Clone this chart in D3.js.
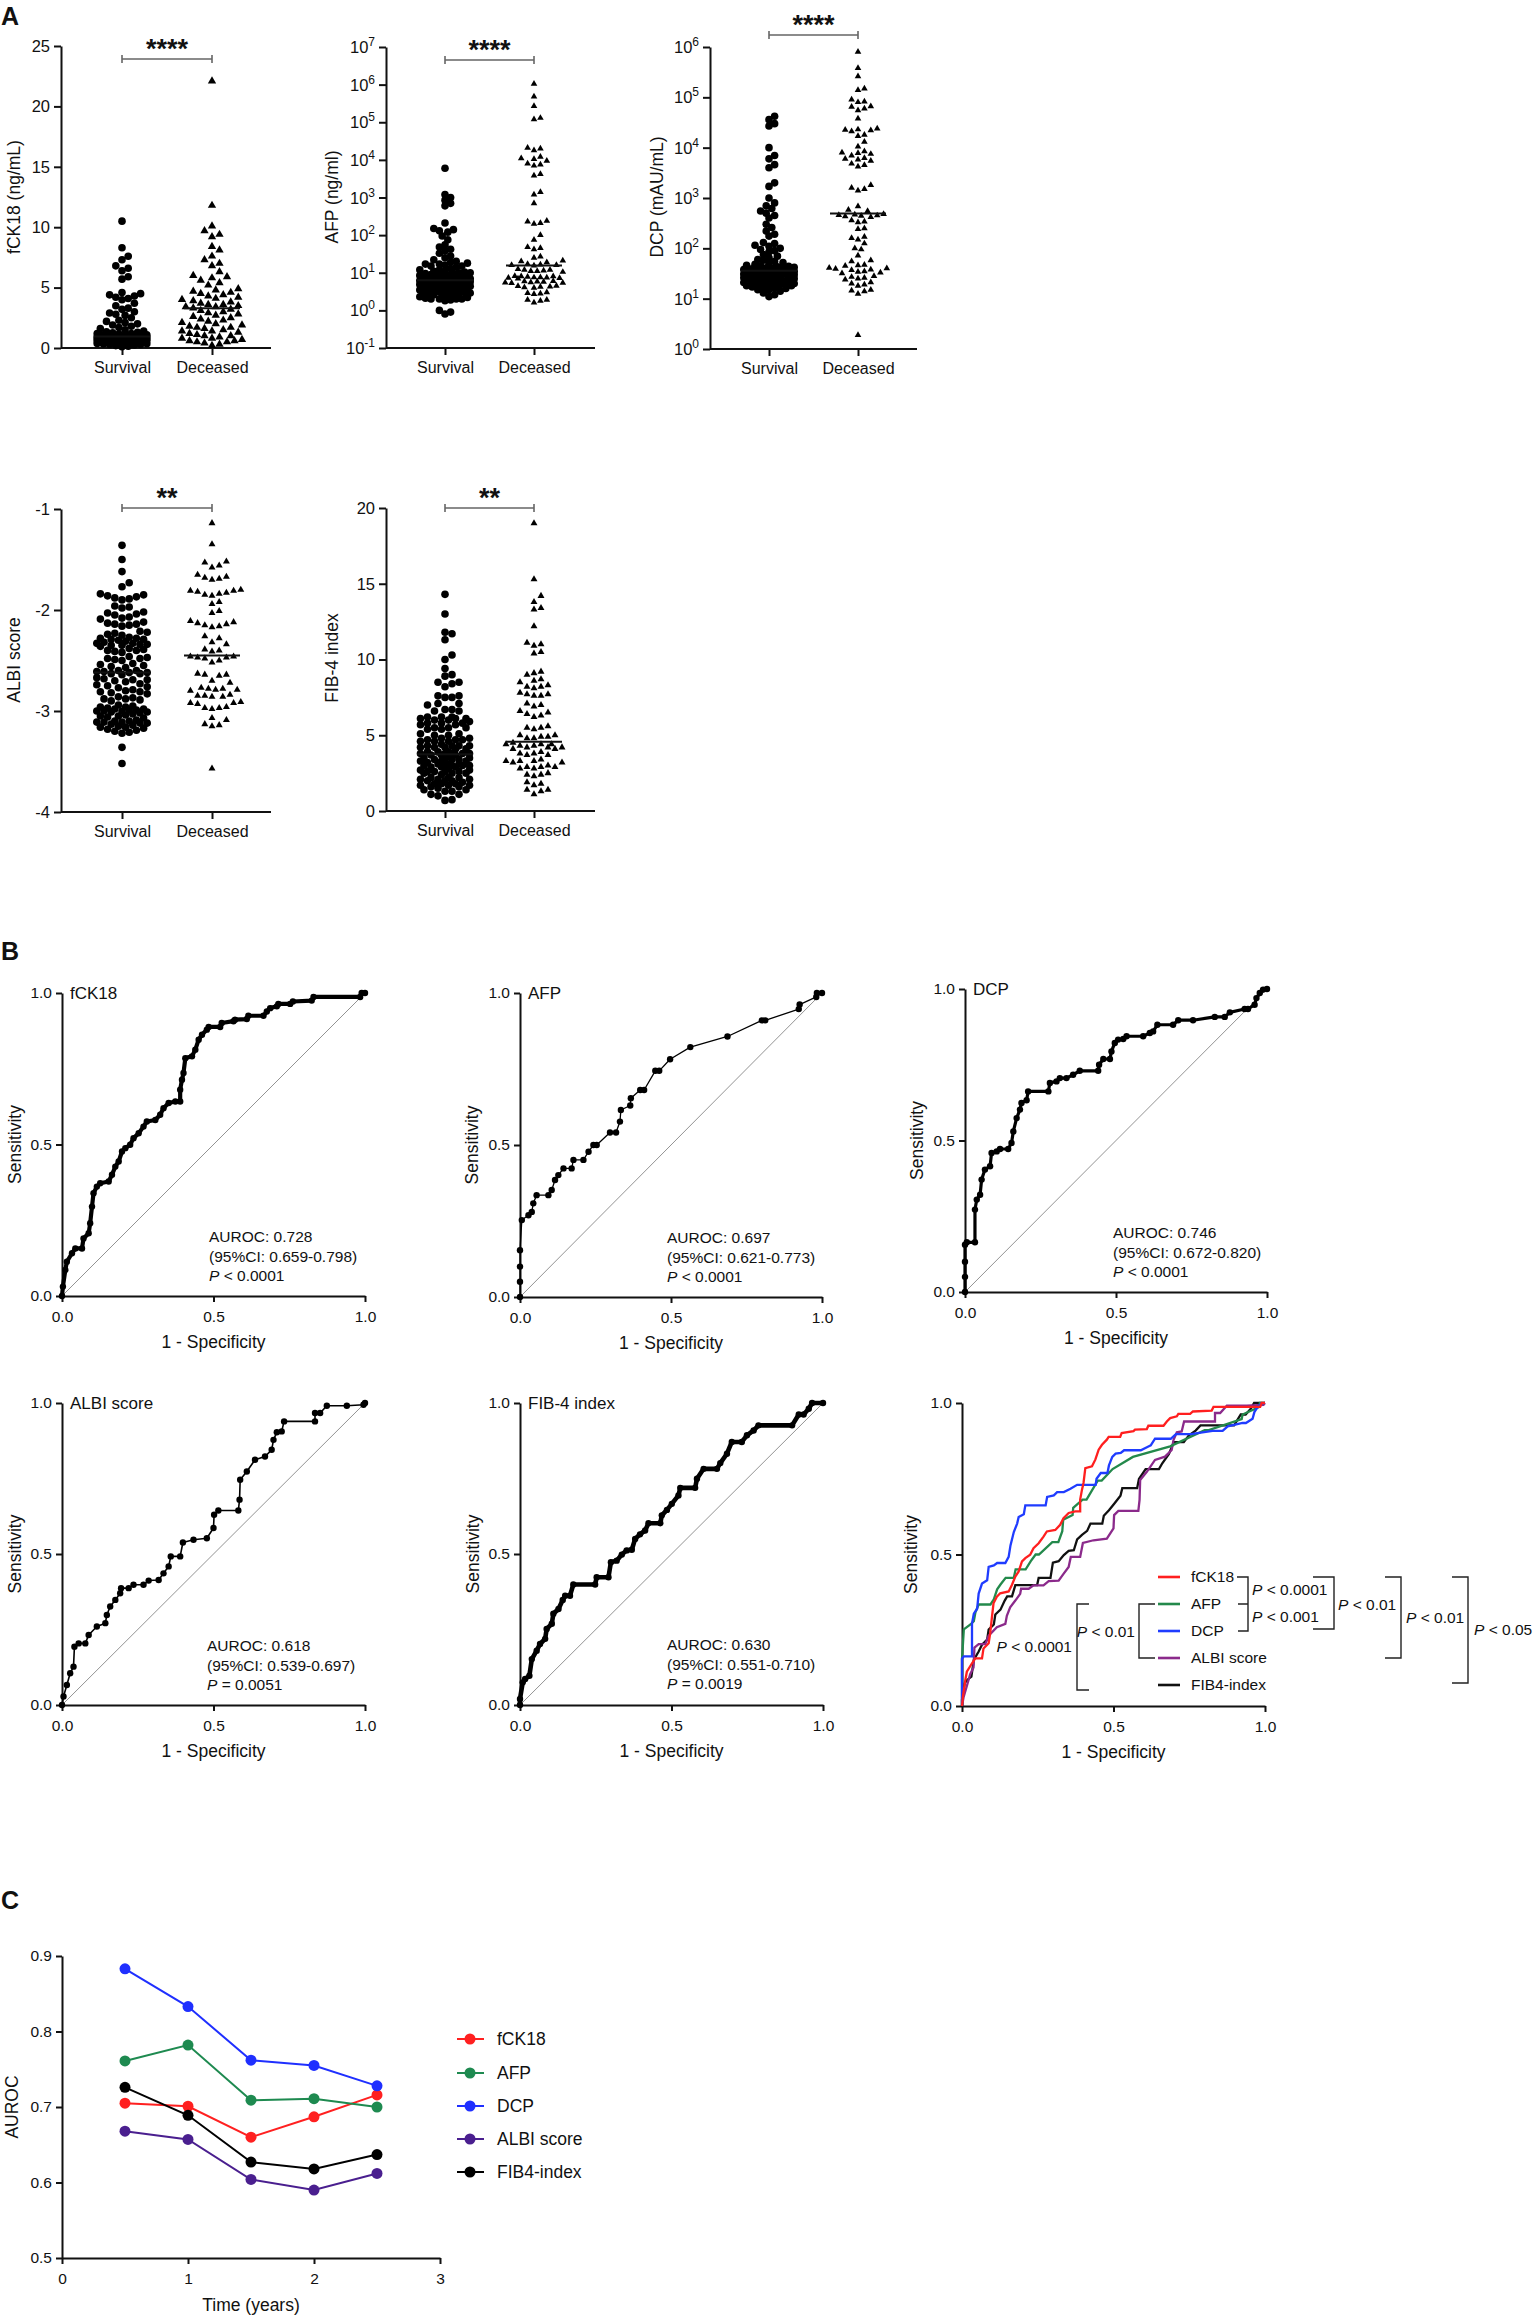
<!DOCTYPE html>
<html>
<head>
<meta charset="utf-8">
<script src="https://cdn.jsdelivr.net/npm/d3@7"></script>
<style>
  body { margin: 0; background: #fff; }
  text { font-family: "Liberation Sans", Arial, Helvetica, sans-serif; fill: #111; }
</style>
</head>
<body>
<svg id="fig" width="1536" height="2318"></svg>
<script>
// ---------- data ----------
const groups = ["Survival", "Deceased"];

const fck18Survival = [10.5, 8.3, 7.6, 7.3, 6.8, 6.6, 6.4, 5.9, 5.7, 4.6, 4.5, 4.4, 4.3, 4.2, 4.1, 4.0, 3.7, 3.5, 3.3, 3.2,
  3.0, 2.9, 2.8, 2.7, 2.5, 2.3, 2.2, 2.1, 2.0, 1.9, 1.8, 1.7, 1.6, 1.5, 1.4, 1.35, 1.3, 1.25, 1.2, 1.2, 1.15, 1.1, 1.1,
  1.1, 1.05, 1.05, 1.0, 1.0, 1.0, 1.0, 0.99, 0.98, 0.98, 0.97, 0.97, 0.96, 0.95, 0.95, 0.93, 0.92, 0.9, 0.9, 0.9, 0.88,
  0.87, 0.85, 0.85, 0.85, 0.83, 0.82, 0.8, 0.8, 0.8, 0.8, 0.78, 0.76, 0.75, 0.75, 0.75, 0.73, 0.72, 0.7, 0.7, 0.7, 0.7,
  0.68, 0.66, 0.65, 0.65, 0.65, 0.62, 0.6, 0.6, 0.6, 0.6, 0.58, 0.55, 0.55, 0.55, 0.53, 0.5, 0.5, 0.5, 0.48, 0.45, 0.45,
  0.42, 0.4, 0.4, 0.38, 0.35, 0.33, 0.3, 0.3, 0.25, 0.2, 0.15, 0.1];
const fck18Deceased = [22.1, 11.8, 10.1, 9.7, 9.4, 9.2, 8.4, 8.1, 7.6, 7.3, 7.0, 6.8, 6.3, 6.0, 5.9, 5.8, 5.6, 5.4, 5.2,
  4.9, 4.8, 4.7, 4.6, 4.5, 4.4, 4.3, 4.2, 4.1, 4.0, 3.9, 3.8, 3.7, 3.6, 3.6, 3.5, 3.4, 3.4, 3.3, 3.2, 3.1, 3.0, 2.9, 2.8,
  2.7, 2.6, 2.5, 2.4, 2.3, 2.2, 2.1, 2.0, 1.9, 1.8, 1.7, 1.7, 1.6, 1.5, 1.4, 1.4, 1.3, 1.2, 1.1, 1.0, 1.0, 0.9, 0.8, 0.8,
  0.7, 0.6, 0.6, 0.5, 0.5, 0.4, 0.3, 0.2];
const fck18Medians = [0.96, 3.3];

const afpSurvival = [6000, 1200, 1000, 850, 700, 600, 210, 150, 140, 130, 120, 95, 75, 55, 48, 42, 38, 33, 28, 25, 22, 20,
  19, 18, 17, 17, 16, 15, 15, 14, 13, 12, 12, 11, 11, 10.5, 10, 10, 9.5, 9.5, 9, 9, 8.8, 8.5, 8.5, 8.2, 8, 8, 7.8, 7.6,
  7.5, 7.4, 7.2, 7.1, 7, 7, 6.9, 6.8, 6.7, 6.6, 6.6, 6.5, 6.5, 6.4, 6.4, 6.2, 6.2, 6.1, 6, 6, 6, 5.9, 5.8, 5.8, 5.7,
  5.6, 5.5, 5.5, 5.4, 5.3, 5.2, 5.1, 5, 5, 5, 4.9, 4.8, 4.7, 4.6, 4.5, 4.5, 4.4, 4.3, 4.2, 4.1, 4, 4, 3.9, 3.8, 3.7,
  3.6, 3.5, 3.5, 3.4, 3.3, 3.2, 3.1, 3, 3, 3, 2.9, 2.8, 2.7, 2.6, 2.5, 2.5, 2.4, 2.3, 2.2, 2.1, 2, 2, 2, 2, 1.9, 1.8,
  1.0, 0.9, 0.8];
const afpDeceased = [1.05e6, 4.8e5, 2.7e5, 1.3e5, 1.2e5, 2.1e4, 2.0e4, 1.8e4, 1.2e4, 1.1e4, 1.05e4, 9.5e3, 8e3, 7.5e3,
  7e3, 4.2e3, 3.8e3, 1400, 1200, 700, 240, 230, 210, 200, 100, 75, 48, 45, 42, 27, 25, 21, 20, 19, 17, 16.5, 16, 16, 15.5,
  12.5, 12, 12, 11.5, 11, 11, 10.5, 8.2, 8, 8, 7.8, 7.6, 7.5, 7.4, 7.3, 7.2, 7, 6, 5.9, 5.8, 5.7, 5.6, 5.5, 5.4, 5.3,
  4.5, 4.4, 4.3, 4.2, 4.1, 4.0, 3, 2.9, 2.8, 2.7, 1.9, 1.9, 1.8, 1.6];
const afpMedians = [6.3, 15.5];

const dcpSurvival = [4.2e4, 3.6e4, 3.0e4, 2.7e4, 1.0e4, 7e3, 6e3, 4.6e3, 4.0e3, 2.0e3, 1.7e3, 1.0e3, 800, 700, 620, 550,
  500, 450, 400, 300, 260, 220, 190, 175, 130, 125, 115, 110, 100, 95, 90, 85, 75, 70, 65, 60, 58, 55, 52, 50, 48, 46,
  45, 44, 43, 42, 41, 40, 40, 39, 38, 38, 37, 37, 37, 36, 36, 36, 35, 35, 35, 34, 34, 33, 33, 32, 32, 31, 31, 30, 30,
  30, 29, 29, 28, 28, 27, 27, 26, 26, 25, 25, 24, 24, 23, 23, 22, 22, 22, 21, 21, 21, 20, 20, 20, 19, 19, 19, 18, 18,
  17, 17, 16, 16, 15, 15, 14, 13, 12, 11];
const dcpDeceased = [8e5, 3.8e5, 2.6e5, 1.5e5, 1.4e5, 9e4, 8e4, 8.2e4, 6.5e4, 6.6e4, 5.5e4, 6e4, 3.8e4, 2.4e4, 2.2e4,
  2.25e4, 2.3e4, 2.1e4, 1.8e4, 1.7e4, 1.3e4, 1.05e4, 8e3, 7.5e3, 7e3, 8.5e3, 7.8e3, 6e3, 5.8e3, 5.5e3, 6.2e3, 4.8e3,
  4.5e3, 4.2e3, 1.8e3, 1.6e3, 1.5e3, 1.4e3, 680, 580, 550, 460, 450, 440, 430, 470, 480, 420, 340, 360, 330, 250, 240,
  170, 160, 150, 125, 95, 100, 72, 58, 55, 47, 45, 46, 40, 38, 41, 39, 37, 34, 33, 35, 32, 27, 26, 28, 25, 24, 20, 19,
  21, 18, 15, 14, 14.5, 12.5, 1.9];
const dcpMedians = [36, 490];

const albiSurvival = [-1.36, -1.50, -1.62, -1.73, -1.77, -1.84, -1.85, -1.86, -1.87, -1.88, -1.89, -1.90, -1.96, -1.97,
  -1.98, -2.02, -2.03, -2.04, -2.05, -2.07, -2.08, -2.09, -2.12, -2.13, -2.14, -2.15, -2.16, -2.14, -2.21, -2.22, -2.23,
  -2.24, -2.25, -2.27, -2.28, -2.29, -2.30, -2.31, -2.29, -2.28, -2.32, -2.33, -2.34, -2.35, -2.36, -2.34, -2.33, -2.35,
  -2.38, -2.39, -2.40, -2.41, -2.42, -2.40, -2.46, -2.47, -2.48, -2.49, -2.50, -2.48, -2.53, -2.54, -2.55, -2.56, -2.57,
  -2.60, -2.61, -2.62, -2.63, -2.64, -2.62, -2.61, -2.63, -2.60, -2.67, -2.68, -2.69, -2.70, -2.71, -2.69, -2.73, -2.74,
  -2.75, -2.76, -2.77, -2.79, -2.80, -2.81, -2.82, -2.83, -2.81, -2.86, -2.87, -2.88, -2.89, -2.90, -2.88, -2.94, -2.95,
  -2.96, -2.97, -2.98, -2.96, -2.99, -3.00, -3.01, -3.00, -2.99, -3.01, -3.02, -3.00, -2.98, -3.03, -3.04, -3.05, -3.06,
  -3.07, -3.05, -3.09, -3.10, -3.11, -3.12, -3.13, -3.11, -3.10, -3.12, -3.11, -3.14, -3.15, -3.16, -3.17, -3.18, -3.16,
  -3.19, -3.20, -3.21, -3.22, -3.36, -3.52];
const albiDeceased = [-1.14, -1.35, -1.52, -1.53, -1.56, -1.58, -1.65, -1.67, -1.68, -1.69, -1.70, -1.80, -1.81, -1.82,
  -1.81, -1.83, -1.84, -1.85, -1.86, -1.92, -1.94, -2.01, -2.03, -2.11, -2.12, -2.13, -2.14, -2.15, -2.16, -2.17, -2.26,
  -2.28, -2.32, -2.34, -2.39, -2.40, -2.41, -2.46, -2.47, -2.48, -2.47, -2.46, -2.50, -2.52, -2.63, -2.64, -2.65, -2.64,
  -2.70, -2.72, -2.77, -2.78, -2.79, -2.80, -2.79, -2.78, -2.84, -2.85, -2.86, -2.85, -2.86, -2.91, -2.92, -2.93, -2.92,
  -2.96, -2.97, -2.98, -2.97, -3.07, -3.09, -3.13, -3.14, -3.15, -3.57];
const albiMedians = [-2.62, -2.45];

const fibSurvival = [14.3, 13.0, 11.8, 11.7, 11.3, 10.3, 10.0, 9.4, 9.0, 8.9, 8.5, 8.5, 8.4, 8.2, 7.6, 7.6, 7.5, 7.5, 7.1,
  7.0, 7.1, 6.7, 6.6, 6.7, 6.6, 6.2, 6.1, 6.2, 6.0, 6.1, 6.2, 6.0, 6.1, 5.8, 5.7, 5.8, 5.9, 5.7, 5.8, 5.5, 5.4, 5.5, 5.4,
  5.5, 5.1, 5.0, 5.1, 5.0, 4.7, 4.6, 4.7, 4.8, 4.6, 4.7, 4.8, 4.6, 4.3, 4.2, 4.3, 4.1, 4.2, 4.3, 4.4, 4.2, 4.1, 4.3, 3.8,
  3.7, 3.8, 3.9, 3.7, 3.8, 3.9, 3.7, 3.8, 3.6, 3.9, 3.8, 3.4, 3.3, 3.4, 3.5, 3.3, 3.4, 3.5, 3.3, 3.4, 3.2, 3.0, 2.9, 3.0,
  3.1, 2.9, 3.0, 3.1, 2.9, 3.0, 2.8, 3.1, 3.0, 2.6, 2.5, 2.6, 2.7, 2.5, 2.6, 2.7, 2.5, 2.6, 2.4, 2.1, 2.0, 2.2, 2.1, 2.0,
  2.2, 2.1, 1.9, 2.0, 2.2, 1.7, 1.8, 1.6, 1.7, 1.8, 1.6, 1.7, 1.8, 1.4, 1.3, 1.4, 1.5, 1.3, 1.1, 1.0, 1.1, 0.75, 0.7];
const fibDeceased = [19.0, 15.3, 14.2, 13.4, 13.3, 13.8, 12.2, 11.0, 10.9, 11.1, 10.5, 10.4, 9.1, 9.0, 9.2, 8.6, 8.5, 8.7,
  8.2, 8.1, 8.2, 8.3, 7.7, 7.6, 7.8, 7.7, 7.6, 7.0, 7.1, 6.9, 6.6, 6.5, 6.3, 6.2, 6.4, 5.5, 5.4, 5.6, 5.5, 4.9, 4.8, 5.0,
  4.9, 4.8, 5.0, 4.4, 4.3, 4.5, 4.4, 4.3, 4.4, 4.2, 4.1, 4.2, 4.2, 4.1, 3.8, 3.7, 3.8, 3.9, 3.7, 3.3, 3.2, 3.3, 3.4, 3.3,
  3.2, 2.9, 2.8, 2.9, 3.0, 2.8, 2.9, 2.4, 2.3, 2.5, 2.4, 1.8, 1.7, 1.9, 1.4, 1.3, 1.4, 1.1];
const fibMedians = [3.75, 4.57];

// ROC curves: [1 - specificity, sensitivity]
const rocFck18 = [[0,0],[0.003,0.031],[0.011,0.086],[0.016,0.113],[0.033,0.141],[0.044,0.157],[0.066,0.157],[0.071,0.19],
  [0.088,0.207],[0.093,0.24],[0.099,0.295],[0.104,0.339],[0.115,0.361],[0.126,0.372],[0.154,0.378],[0.165,0.40],
  [0.176,0.427],[0.187,0.444],[0.198,0.477],[0.209,0.488],[0.225,0.499],[0.236,0.521],[0.253,0.537],[0.269,0.559],
  [0.280,0.576],[0.308,0.581],[0.324,0.598],[0.335,0.62],[0.352,0.637],[0.374,0.642],[0.390,0.642],[0.390,0.681],
  [0.396,0.714],[0.401,0.736],[0.407,0.785],[0.429,0.791],[0.440,0.813],[0.451,0.846],[0.462,0.862],[0.478,0.879],
  [0.484,0.888],[0.522,0.888],[0.527,0.901],[0.566,0.907],[0.571,0.912],[0.610,0.914],[0.615,0.925],[0.665,0.925],
  [0.676,0.939],[0.687,0.950],[0.709,0.956],[0.714,0.964],[0.753,0.964],[0.762,0.972],[0.824,0.975],[0.830,0.987],
  [0.984,0.987],[0.989,1],[1,1]];
const rocAfp = [[0,0],[0,0.05],[0,0.1],[0,0.154],[0.006,0.253],[0.028,0.269],[0.039,0.280],[0.044,0.308],[0.055,0.335],
  [0.094,0.335],[0.105,0.352],[0.116,0.385],[0.127,0.401],[0.144,0.423],[0.171,0.423],[0.177,0.451],[0.210,0.451],
  [0.227,0.478],[0.243,0.5],[0.254,0.5],[0.298,0.541],[0.318,0.541],[0.331,0.577],[0.334,0.615],[0.365,0.630],
  [0.367,0.654],[0.398,0.681],[0.411,0.681],[0.448,0.744],[0.461,0.744],[0.497,0.782],[0.564,0.822],[0.687,0.857],
  [0.801,0.910],[0.812,0.910],[0.923,0.947],[0.926,0.962],[0.981,0.987],[0.983,1],[1,1]];
const rocDcp = [[0,0],[0,0.05],[0,0.1],[0,0.156],[0.006,0.164],[0.033,0.164],[0.033,0.272],[0.039,0.305],[0.050,0.321],
  [0.055,0.371],[0.066,0.404],[0.083,0.415],[0.088,0.459],[0.105,0.464],[0.116,0.472],[0.143,0.472],[0.154,0.492],
  [0.160,0.530],[0.171,0.574],[0.182,0.602],[0.187,0.624],[0.204,0.633],[0.209,0.662],[0.276,0.662],[0.281,0.690],
  [0.303,0.695],[0.314,0.706],[0.336,0.706],[0.358,0.717],[0.380,0.730],[0.441,0.730],[0.444,0.750],[0.458,0.769],
  [0.480,0.769],[0.485,0.794],[0.496,0.822],[0.507,0.833],[0.524,0.835],[0.535,0.844],[0.590,0.844],[0.612,0.855],
  [0.623,0.860],[0.637,0.882],[0.689,0.882],[0.706,0.897],[0.755,0.897],[0.827,0.908],[0.860,0.908],[0.877,0.923],
  [0.926,0.934],[0.937,0.934],[0.959,0.948],[0.965,0.970],[0.976,0.987],[0.987,0.998],[1,1]];
const rocAlbi = [[0,0],[0.005,0.028],[0.016,0.066],[0.027,0.105],[0.038,0.127],[0.041,0.193],[0.055,0.204],[0.077,0.204],
  [0.088,0.232],[0.115,0.260],[0.143,0.271],[0.148,0.298],[0.159,0.326],[0.176,0.348],[0.192,0.370],[0.195,0.387],
  [0.220,0.387],[0.236,0.398],[0.269,0.398],[0.286,0.412],[0.319,0.414],[0.335,0.436],[0.352,0.459],[0.359,0.492],
  [0.390,0.492],[0.399,0.538],[0.434,0.547],[0.478,0.552],[0.500,0.586],[0.502,0.630],[0.516,0.644],[0.582,0.644],
  [0.586,0.680],[0.588,0.746],[0.610,0.773],[0.637,0.812],[0.670,0.823],[0.692,0.845],[0.698,0.878],[0.709,0.903],
  [0.725,0.906],[0.733,0.939],[0.835,0.939],[0.835,0.967],[0.852,0.967],[0.874,0.991],[0.940,0.991],[0.995,0.994],[1,1]];
const rocFib = [[0,0],[0,0.02],[0.009,0.075],[0.017,0.086],[0.031,0.097],[0.039,0.152],[0.055,0.180],[0.066,0.202],
  [0.083,0.219],[0.088,0.252],[0.105,0.269],[0.110,0.302],[0.127,0.318],[0.141,0.348],[0.149,0.362],[0.165,0.362],
  [0.176,0.399],[0.248,0.399],[0.253,0.423],[0.292,0.423],[0.300,0.473],[0.319,0.478],[0.336,0.498],[0.352,0.512],
  [0.369,0.514],[0.380,0.550],[0.396,0.565],[0.413,0.578],[0.424,0.602],[0.463,0.602],[0.468,0.628],[0.485,0.646],
  [0.501,0.666],[0.523,0.694],[0.529,0.719],[0.578,0.719],[0.584,0.749],[0.606,0.782],[0.650,0.782],[0.661,0.801],
  [0.683,0.832],[0.699,0.871],[0.732,0.871],[0.749,0.893],[0.771,0.909],[0.787,0.926],[0.898,0.926],[0.920,0.962],
  [0.936,0.962],[0.953,0.981],[0.964,1],[1,1]];

const rocInfo = {
  fCK18: ["AUROC: 0.728", "(95%CI: 0.659-0.798)", ["P", " < 0.0001"]],
  AFP: ["AUROC: 0.697", "(95%CI: 0.621-0.773)", ["P", " < 0.0001"]],
  DCP: ["AUROC: 0.746", "(95%CI: 0.672-0.820)", ["P", " < 0.0001"]],
  ALBI: ["AUROC: 0.618", "(95%CI: 0.539-0.697)", ["P", " = 0.0051"]],
  FIB: ["AUROC: 0.630", "(95%CI: 0.551-0.710)", ["P", " = 0.0019"]]
};
const markerNames = ["fCK18", "AFP", "DCP", "ALBI score", "FIB4-index"];

// Panel C: time-dependent AUROC
const years = [0.5, 1, 1.5, 2, 2.5];
const aurocFck18 = [0.705, 0.701, 0.660, 0.687, 0.716];
const aurocAfp = [0.761, 0.782, 0.709, 0.711, 0.700];
const aurocDcp = [0.883, 0.833, 0.762, 0.755, 0.728];
const aurocAlbi = [0.668, 0.657, 0.604, 0.590, 0.612];
const aurocFib = [0.726, 0.689, 0.627, 0.618, 0.637];

// ---------- drawing ----------
const svg = d3.select("#fig");
svg.append("rect").attr("width", 1536).attr("height", 2318).attr("fill", "#fff");

const styleAxis = (g, fs) => {
  g.selectAll("path, line").attr("stroke", "#111").attr("stroke-width", 2);
  g.selectAll("text").attr("font-size", fs || 15.5).attr("fill", "#111");
};

const vTitle = (x, y, txt, fs) => svg.append("text")
  .attr("transform", `translate(${x},${y}) rotate(-90)`)
  .attr("text-anchor", "middle").attr("dy", "0.35em")
  .attr("font-size", fs || 17).text(txt);

// plain hyphen for negatives, like the original
const intFmt = d => String(d);

// simple beeswarm: keep points from overlapping too much, clamp the width
function swarm(vals, y, cx, minDist, maxHalf) {
  const pts = vals.map(v => ({ v, py: y(v) })).sort((a, b) => b.py - a.py);
  const placed = [];
  const step = minDist / 2;
  pts.forEach(p => {
    let best = 0, bestD = -1;
    for (let k = 0; ; k++) {
      const off = (k % 2 ? 1 : -1) * Math.ceil(k / 2) * step;
      if (Math.abs(off) > maxHalf) break;
      let dmin = Infinity;
      for (const q of placed) {
        const dy = q.py - p.py;
        if (Math.abs(dy) < minDist) dmin = Math.min(dmin, Math.hypot(q.x - (cx + off), dy));
      }
      if (dmin >= minDist) { best = off; bestD = Infinity; break; }
      if (dmin > bestD) { bestD = dmin; best = off; }
    }
    p.x = cx + best;
    placed.push(p);
  });
  return pts;
}

// Panel letters
svg.append("text").attr("x", 1).attr("y", 25).attr("font-size", 25).attr("font-weight", "bold").text("A");
svg.append("text").attr("x", 1).attr("y", 960).attr("font-size", 25).attr("font-weight", "bold").text("B");
svg.append("text").attr("x", 1).attr("y", 1909).attr("font-size", 25).attr("font-weight", "bold").text("C");

// ----- Panel A: dot plots -----
const panelsA = [
  { label: "fCK18 (ng/mL)", vals: [fck18Survival, fck18Deceased], med: fck18Medians, log: false, domain: [0, 25],
    ticks: [0, 5, 10, 15, 20, 25], x0: 61, x1: 271, yTop: 46, yBot: 348, cats: [122, 212], bracketY: 59, stars: "****",
    tX: 14, tY: 197, r: 3.8, tri: 30, dist: [6.2, 7.5] },
  { label: "AFP (ng/ml)", vals: [afpSurvival, afpDeceased], med: afpMedians, log: true, domain: [0.1, 1e7],
    ticks: d3.range(-1, 8), x0: 386, x1: 595, yTop: 47, yBot: 348, cats: [445, 534], bracketY: 60, stars: "****",
    tX: 332, tY: 197, r: 3.8, tri: 19, dist: [5.6, 6.4] },
  { label: "DCP (mAU/mL)", vals: [dcpSurvival, dcpDeceased], med: dcpMedians, log: true, domain: [1, 1e6],
    ticks: d3.range(0, 7), x0: 710, x1: 917, yTop: 47, yBot: 349, cats: [769, 858], bracketY: 35, stars: "****",
    tX: 657, tY: 197, r: 3.8, tri: 19, dist: [5.6, 6.4] },
  { label: "ALBI score", vals: [albiSurvival, albiDeceased], med: albiMedians, log: false, domain: [-4, -1],
    ticks: [-4, -3, -2, -1], x0: 61, x1: 271, yTop: 509, yBot: 812, cats: [122, 212], bracketY: 508, stars: "**",
    tX: 14, tY: 660, r: 3.8, tri: 21, dist: [7.2, 7.2] },
  { label: "FIB-4 index", vals: [fibSurvival, fibDeceased], med: fibMedians, log: false, domain: [0, 20],
    ticks: [0, 5, 10, 15, 20], x0: 386, x1: 595, yTop: 508, yBot: 811, cats: [445, 534], bracketY: 508, stars: "**",
    tX: 332, tY: 658, r: 3.8, tri: 21, dist: [7.0, 7.0] }
];

panelsA.forEach(p => {
  const y = (p.log ? d3.scaleLog() : d3.scaleLinear()).domain(p.domain).range([p.yBot, p.yTop]);
  const x = d3.scalePoint().domain(groups).range(p.cats);
  const tickVals = p.log ? p.ticks.map(e => Math.pow(10, e)) : p.ticks;

  const gy = svg.append("g").attr("transform", `translate(${p.x0},0)`)
    .call(d3.axisLeft(y).tickValues(tickVals).tickSize(7).tickSizeOuter(0).tickPadding(4)
      .tickFormat(p.log ? () => "" : intFmt));
  styleAxis(gy, 16.5);
  if (p.log) {
    p.ticks.forEach(e => {
      const t = svg.append("text").attr("x", p.x0 - 11).attr("y", y(Math.pow(10, e)) + 6)
        .attr("text-anchor", "end").attr("font-size", 16.5);
      t.append("tspan").text("10");
      t.append("tspan").attr("font-size", 12).attr("dy", -7).text(String(e));
    });
  }

  const gx = svg.append("g").attr("transform", `translate(0,${p.yBot})`)
    .call(d3.axisBottom(x).tickSize(7).tickSizeOuter(0).tickPadding(7));
  gx.select(".domain").remove();
  styleAxis(gx, 16);
  svg.append("line").attr("x1", p.x0).attr("x2", p.x1).attr("y1", p.yBot).attr("y2", p.yBot)
    .attr("stroke", "#111").attr("stroke-width", 2);

  vTitle(p.tX, p.tY, p.label, 17.5);

  // points
  const surv = swarm(p.vals[0], y, x(groups[0]), p.dist[0], 27);
  svg.append("g").selectAll("circle").data(surv).join("circle")
    .attr("cx", d => d.x).attr("cy", d => d.py).attr("r", p.r).attr("fill", "#000");
  const dec = swarm(p.vals[1], y, x(groups[1]), p.dist[1], 30);
  svg.append("g").selectAll("path").data(dec).join("path")
    .attr("d", d3.symbol(d3.symbolTriangle, p.tri))
    .attr("transform", d => `translate(${d.x},${d.py})`).attr("fill", "#000");

  // medians
  p.med.forEach((m, i) => {
    svg.append("line").attr("x1", x(groups[i]) - 28).attr("x2", x(groups[i]) + 28)
      .attr("y1", y(m)).attr("y2", y(m)).attr("stroke", "#111").attr("stroke-width", 2);
  });

  // significance bracket
  const c1 = x(groups[0]), c2 = x(groups[1]), by = p.bracketY;
  svg.append("path")
    .attr("d", `M${c1},${by - 4}V${by + 4}M${c1},${by}H${c2}M${c2},${by - 4}V${by + 4}`)
    .attr("stroke", "#666").attr("stroke-width", 1.6).attr("fill", "none");
  svg.append("text").attr("x", (c1 + c2) / 2).attr("y", by - 1.5).attr("text-anchor", "middle")
    .attr("font-size", 27).attr("font-weight", "bold").text(p.stars);
});

// ----- Panel B: ROC curves -----
function rocAxes(f) {
  const x = d3.scaleLinear().domain([0, 1]).range([f.x0, f.x1]);
  const y = d3.scaleLinear().domain([0, 1]).range([f.y0, f.y1]);
  const gx = svg.append("g").attr("transform", `translate(0,${f.y0})`)
    .call(d3.axisBottom(x).tickValues([0, 0.5, 1]).tickFormat(d3.format(".1f")).tickSize(6).tickSizeOuter(0).tickPadding(9));
  styleAxis(gx, 15.5);
  const gy = svg.append("g").attr("transform", `translate(${f.x0},0)`)
    .call(d3.axisLeft(y).tickValues([0, 0.5, 1]).tickFormat(d3.format(".1f")).tickSize(6).tickSizeOuter(0).tickPadding(4));
  styleAxis(gy, 15.5);
  vTitle(f.sx, (f.y0 + f.y1) / 2, "Sensitivity", 17.5);
  svg.append("text").attr("x", (f.x0 + f.x1) / 2).attr("y", f.y0 + 52).attr("text-anchor", "middle")
    .attr("font-size", 17.5).text("1 - Specificity");
  return { x, y };
}

const rocPanels = [
  { key: "fCK18", title: "fCK18", data: rocFck18, x0: 62, x1: 365, y0: 1296, y1: 993, sx: 15, ix: 209, iy: 1237, lw: 4.2, dr: 3.2 },
  { key: "AFP", title: "AFP", data: rocAfp, x0: 520, x1: 822, y0: 1297, y1: 993, sx: 472, ix: 667, iy: 1238, lw: 1.3, dr: 3.2 },
  { key: "DCP", title: "DCP", data: rocDcp, x0: 965, x1: 1267, y0: 1292, y1: 989, sx: 917, ix: 1113, iy: 1233, lw: 3.2, dr: 3.2 },
  { key: "ALBI", title: "ALBI score", data: rocAlbi, x0: 62, x1: 365, y0: 1705, y1: 1403, sx: 15, ix: 207, iy: 1646, lw: 1.6, dr: 3.2 },
  { key: "FIB", title: "FIB-4 index", data: rocFib, x0: 520, x1: 823, y0: 1705, y1: 1403, sx: 473, ix: 667, iy: 1645, lw: 4.6, dr: 3.2 }
];

rocPanels.forEach(f => {
  const { x, y } = rocAxes(f);
  svg.append("line").attr("x1", x(0)).attr("y1", y(0)).attr("x2", x(1)).attr("y2", y(1))
    .attr("stroke", "#777").attr("stroke-width", 0.8);
  const line = d3.line().x(d => x(d[0])).y(d => y(d[1]));
  svg.append("path").datum(f.data).attr("d", line).attr("fill", "none")
    .attr("stroke", "#000").attr("stroke-width", f.lw).attr("stroke-linejoin", "round");
  svg.append("g").selectAll("circle").data(f.data).join("circle")
    .attr("cx", d => x(d[0])).attr("cy", d => y(d[1])).attr("r", f.dr).attr("fill", "#000");
  svg.append("text").attr("x", f.x0 + 8).attr("y", f.y1).attr("dy", "0.35em").attr("font-size", 17).text(f.title);
  const info = rocInfo[f.key];
  info.forEach((ln, i) => {
    const t = svg.append("text").attr("x", f.ix).attr("y", f.iy + i * 19.5).attr("dy", "0.35em").attr("font-size", 15.5);
    if (Array.isArray(ln)) {
      t.append("tspan").attr("font-style", "italic").text(ln[0]);
      t.append("tspan").text(ln[1]);
    } else t.text(ln);
  });
});

// combined ROC
const comb = { x0: 962, x1: 1265, y0: 1706, y1: 1403, sx: 911 };
const cs = rocAxes(comb);
const combSeries = [
  { name: "FIB4-index", data: rocFib, color: "#111111" },
  { name: "ALBI score", data: rocAlbi, color: "#8b2a8b" },
  { name: "AFP", data: rocAfp, color: "#23894b" },
  { name: "DCP", data: rocDcp, color: "#1f3cff" },
  { name: "fCK18", data: rocFck18, color: "#ff1f1f" }
];
const cLine = d3.line().x(d => cs.x(d[0])).y(d => cs.y(d[1]));
combSeries.forEach(s => {
  svg.append("path").datum(s.data).attr("d", cLine).attr("fill", "none")
    .attr("stroke", s.color).attr("stroke-width", 2.3);
});
const legRows = [1577, 1604, 1631, 1658, 1685];
const combColors = { "fCK18": "#ff1f1f", "AFP": "#23894b", "DCP": "#1f3cff", "ALBI score": "#8b2a8b", "FIB4-index": "#111111" };
markerNames.forEach((n, i) => {
  svg.append("line").attr("x1", 1158).attr("x2", 1180).attr("y1", legRows[i]).attr("y2", legRows[i])
    .attr("stroke", combColors[n]).attr("stroke-width", 2.6);
  svg.append("text").attr("x", 1191).attr("y", legRows[i]).attr("dy", "0.35em").attr("font-size", 15.5).text(n);
});
const bk = (d) => svg.append("path").attr("d", d).attr("fill", "none").attr("stroke", "#222").attr("stroke-width", 1.4);
const pText = (x, yy, rest, anchor) => {
  const t = svg.append("text").attr("x", x).attr("y", yy).attr("dy", "0.35em").attr("font-size", 15.5)
    .attr("text-anchor", anchor || "start");
  t.append("tspan").attr("font-style", "italic").text("P");
  t.append("tspan").text(rest);
};
bk(`M1237,${legRows[0]}H1248V${legRows[2]}H1238M1238,${legRows[1]}H1248`);
pText(1252, 1590, " < 0.0001");
pText(1252, 1617, " < 0.001");
bk(`M1313,${legRows[0]}H1334V1629H1313`);
pText(1338, 1605, " < 0.01");
bk(`M1385,${legRows[0]}H1401V${legRows[3]}H1385`);
pText(1406, 1618, " < 0.01");
bk(`M1452,${legRows[0]}H1468V1683H1452`);
pText(1474, 1630, " < 0.05");
bk(`M1155,${legRows[1]}H1139V${legRows[3]}H1155`);
pText(1135, 1632, " < 0.01", "end");
bk(`M1089,${legRows[1]}H1077V1690H1089`);
pText(1072, 1647, " < 0.0001", "end");

// ----- Panel C -----
const cx = d3.scaleLinear().domain([0, 3]).range([62, 440]);
const cy = d3.scaleLinear().domain([0.5, 0.9]).range([2258, 1956]);
const gcx = svg.append("g").attr("transform", "translate(0,2258)")
  .call(d3.axisBottom(cx).tickValues([0, 1, 2, 3]).tickFormat(d3.format("d")).tickSize(6).tickSizeOuter(0).tickPadding(9));
styleAxis(gcx, 15.5);
const gcy = svg.append("g").attr("transform", "translate(62,0)")
  .call(d3.axisLeft(cy).tickValues([0.5, 0.6, 0.7, 0.8, 0.9]).tickFormat(d3.format(".1f")).tickSize(6).tickSizeOuter(0).tickPadding(4));
styleAxis(gcy, 15.5);
vTitle(12, 2107, "AUROC", 17.5);
svg.append("text").attr("x", 251).attr("y", 2305).attr("dy", "0.35em").attr("text-anchor", "middle")
  .attr("font-size", 17.5).text("Time (years)");

const cSeries = [
  { name: "fCK18", vals: aurocFck18, color: "#ff2020" },
  { name: "AFP", vals: aurocAfp, color: "#1e8a50" },
  { name: "DCP", vals: aurocDcp, color: "#1f2fff" },
  { name: "ALBI score", vals: aurocAlbi, color: "#4a1f8f" },
  { name: "FIB4-index", vals: aurocFib, color: "#000000" }
];
const cl = d3.line().x((d, i) => cx(years[i])).y(d => cy(d));
cSeries.forEach(s => {
  svg.append("path").datum(s.vals).attr("d", cl).attr("fill", "none").attr("stroke", s.color).attr("stroke-width", 2);
  svg.append("g").selectAll("circle").data(s.vals).join("circle")
    .attr("cx", (d, i) => cx(years[i])).attr("cy", d => cy(d)).attr("r", 5.5).attr("fill", s.color);
});
const cLeg = [2039, 2073, 2106, 2139, 2172];
cSeries.forEach((s, i) => {
  svg.append("line").attr("x1", 457).attr("x2", 484).attr("y1", cLeg[i]).attr("y2", cLeg[i])
    .attr("stroke", s.color).attr("stroke-width", 2);
  svg.append("circle").attr("cx", 470).attr("cy", cLeg[i]).attr("r", 5.5).attr("fill", s.color);
  svg.append("text").attr("x", 497).attr("y", cLeg[i]).attr("dy", "0.35em").attr("font-size", 17.5).text(s.name);
});
</script>
</body>
</html>
